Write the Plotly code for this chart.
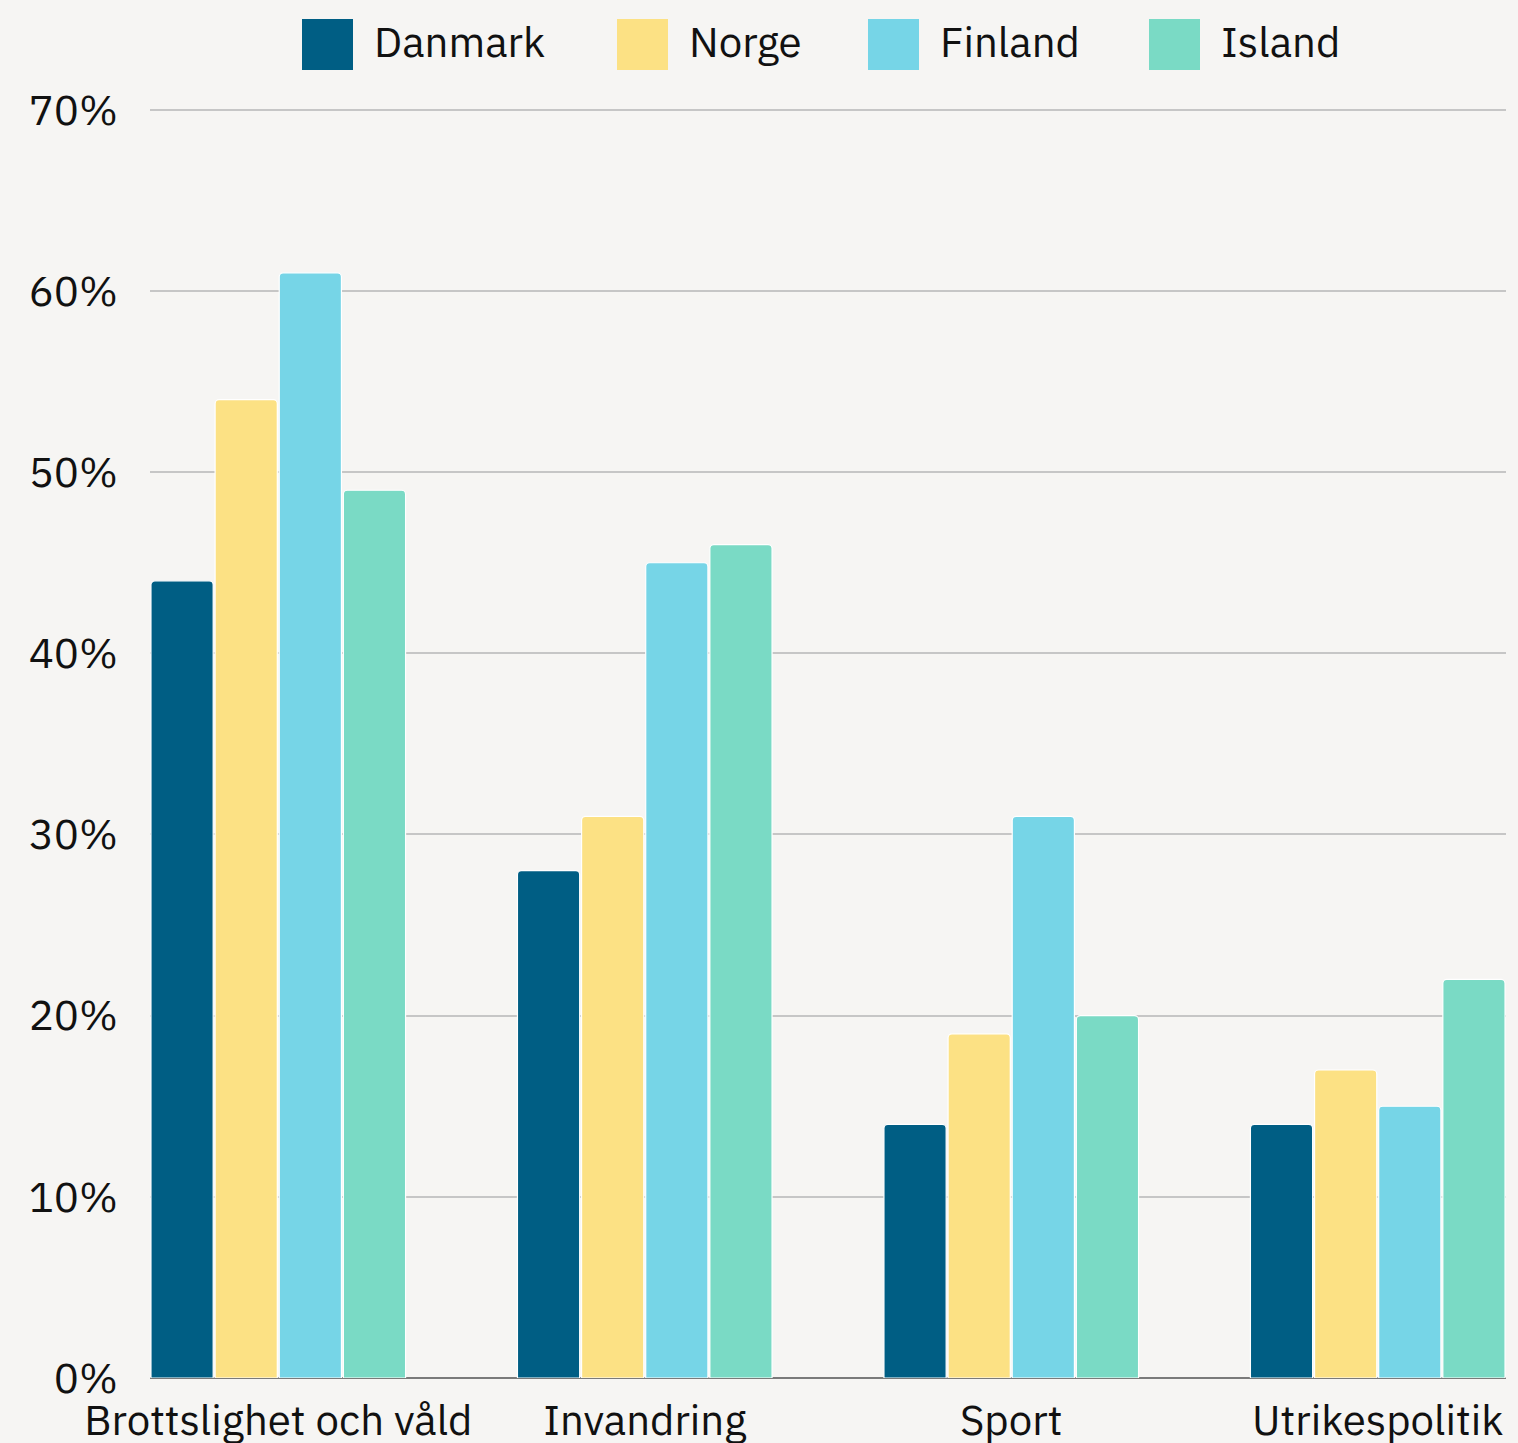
import plotly.graph_objects as go

categories = ["Brottslighet och våld", "Invandring", "Sport", "Utrikespolitik"]
series_names = ["Danmark", "Norge", "Finland", "Island"]
danmark = [44, 28, 14, 14]
norge = [54, 31, 19, 17]
finland = [61, 45, 31, 15]
island = [49, 46, 20, 22]
colors = ["#005E84", "#FCE184", "#76D5E7", "#7ADAC5"]
y_ticks = [0, 10, 20, 30, 40, 50, 60, 70]
y_labels = [f"{v}%" for v in y_ticks]

FONT = "IBM Plex Sans, Noto Sans, sans-serif"
BG = "#F6F5F3"
FS = 42

fig = go.Figure()
xs = list(range(len(categories)))
for name, vals, col in zip(series_names, [danmark, norge, finland, island], colors):
    fig.add_trace(go.Bar(
        x=xs, y=vals, name=name, showlegend=False,
        marker=dict(color=col, line=dict(color="white", width=1.2), cornerradius=4),
    ))

# manual legend (large square swatches)
W, H = 1518, 1443
L, R, T, B = 150, 12, 108, 65
pw, ph = W - L - R, H - T - B
def px_x(p):
    return (p - L) / pw
def px_y(p):
    return (H - B - p) / ph

sq_left = [302, 617, 868, 1149]
for name, col, x0 in zip(series_names, colors, sq_left):
    fig.add_shape(type="rect", xref="paper", yref="paper",
                  x0=px_x(x0), x1=px_x(x0 + 51), y0=px_y(70), y1=px_y(19),
                  fillcolor=col, line=dict(width=0), layer="above")
    fig.add_annotation(xref="paper", yref="paper", x=px_x(x0 + 70), y=px_y(41),
                       text=name, showarrow=False, xanchor="left", yanchor="middle",
                       font=dict(family=FONT, size=FS, color="#111111"))

fig.update_layout(
    width=W, height=H,
    margin=dict(l=L, r=R, t=T, b=B, autoexpand=False),
    paper_bgcolor=BG, plot_bgcolor=BG,
    barmode="group", bargap=0.3, bargroupgap=0.03,
    font=dict(family=FONT, size=FS, color="#111111"),
    xaxis=dict(
        tickvals=xs, ticktext=categories, range=[-0.35, 3.35],
        showgrid=False, zeroline=False, showline=False, ticks="",
        tickfont=dict(size=FS), ticklabelstandoff=14, automargin=False,
    ),
    yaxis=dict(
        range=[0, 70.1], tickvals=y_ticks, ticktext=y_labels,
        showgrid=True, gridcolor="#C6C6C6", gridwidth=1.5,
        zeroline=True, zerolinecolor="#7A7A7A", zerolinewidth=2,
        showline=False, ticks="", ticklabelstandoff=31,
        tickfont=dict(size=FS), automargin=False,
    ),
)

fig.write_html("out.html", config={"displayModeBar": False},
               post_script="document.body.style.margin='0';document.body.style.background='#F6F5F3';")
